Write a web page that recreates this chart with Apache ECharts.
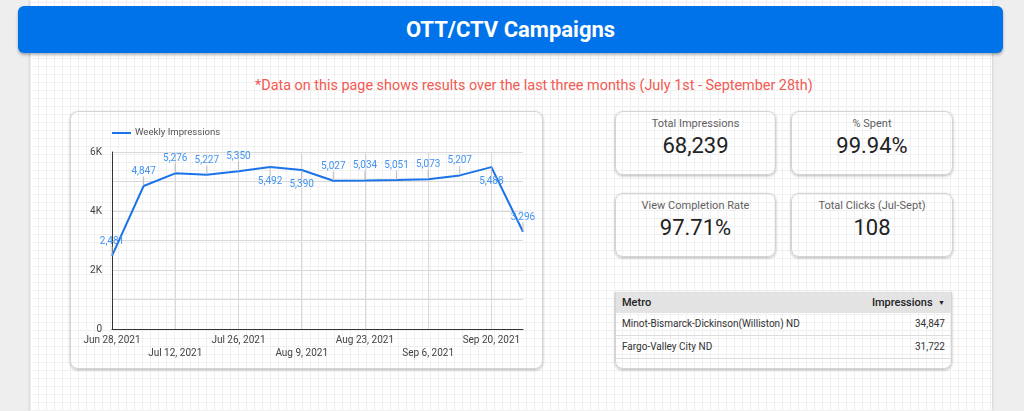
<!DOCTYPE html>
<html>
<head>
<meta charset="utf-8">
<script src="https://cdn.jsdelivr.net/npm/echarts/dist/echarts.min.js"></script>
<style>
  html, body { margin: 0; padding: 0; }
  body { width: 1024px; height: 411px; background: #eeeeee; position: relative; overflow: hidden; font-family: Roboto, "Noto Sans", sans-serif; }
  #page { position: absolute; left: 30px; top: 0; width: 962px; height: 411px; background-color: #fff;
    background-image: repeating-linear-gradient(0deg, #f0f0f0 0 1px, transparent 1px 8px), repeating-linear-gradient(90deg, #f0f0f0 0 1px, transparent 1px 8px);
    box-shadow: 0 0 3px rgba(0,0,0,0.2); }
  #header { position: absolute; left: 18px; top: 6px; width: 985px; height: 47px; background: #0073ea; border-radius: 6px;
    box-shadow: 0 2px 3px rgba(0,0,0,0.3); color: #fff; font-weight: bold; font-size: 22px; line-height: 47px; text-align: center; }
  #note { position: absolute; left: 255px; width: 560px; top: 77px; white-space: nowrap; color: #f25a52; font-size: 14.4px; line-height: 18px; }
  .card { position: absolute; border: 1px solid #d4d4d4; border-radius: 8px; box-shadow: 0 1px 3px rgba(0,0,0,0.28); box-sizing: border-box; }
  .kpi { text-align: center; }
  .kpi .t { position: absolute; left: 0; right: 0; top: 5px; font-size: 11px; color: #5f5f5f; line-height: 14px; }
  .kpi .v { position: absolute; left: 0; right: 0; top: 20px; font-size: 22px; color: #222; line-height: 28px; }
  #chart { position: absolute; left: 70px; top: 111px; width: 473px; height: 258px; }
  #tbl { position: absolute; left: 615px; top: 292px; width: 337px; height: 77px; border-top: none; border-radius: 0 0 8px 8px; overflow: hidden; }
  #tbl .hd { height: 21px; background: #e3e3e3; font-size: 11px; font-weight: 500; color: #222; line-height: 21px; position: relative; }
  #tbl .row { height: 22px; border-bottom: 1px solid #dddddd; font-size: 10px; color: #333; line-height: 22px; position: relative; }
  #tbl .l { position: absolute; left: 6px; }
  #tbl .r { position: absolute; right: 6px; }
</style>
</head>
<body>
<div id="page"></div>
<div id="header">OTT/CTV Campaigns</div>
<div id="note">*Data on this page shows results over the last three months (July 1st - September 28th)</div>

<div class="card" style="left:70px;top:111px;width:473px;height:258px;"></div>
<div id="chart"></div>

<div class="card kpi" style="left:615px;top:111px;width:161px;height:64px;"><div class="t" id="k0t"></div><div class="v" id="k0v"></div></div>
<div class="card kpi" style="left:791px;top:111px;width:162px;height:64px;"><div class="t" id="k1t"></div><div class="v" id="k1v"></div></div>
<div class="card kpi" style="left:615px;top:193px;width:161px;height:64px;"><div class="t" id="k2t"></div><div class="v" id="k2v"></div></div>
<div class="card kpi" style="left:791px;top:193px;width:162px;height:64px;"><div class="t" id="k3t"></div><div class="v" id="k3v"></div></div>

<div class="card" id="tbl">
  <div class="hd"><span class="l">Metro</span><span class="r">Impressions&nbsp;&nbsp;<span style="font-size:7px;vertical-align:1px;">&#9660;</span></span></div>
  <div class="row"><span class="l" id="m0"></span><span class="r" id="v0"></span></div>
  <div class="row"><span class="l" id="m1"></span><span class="r" id="v1"></span></div>
</div>

<script>
var categories = ['Jun 28, 2021','Jul 5, 2021','Jul 12, 2021','Jul 19, 2021','Jul 26, 2021','Aug 2, 2021','Aug 9, 2021','Aug 16, 2021','Aug 23, 2021','Aug 30, 2021','Sep 6, 2021','Sep 13, 2021','Sep 20, 2021','Sep 27, 2021'];
var impressions = [2481, 4847, 5276, 5227, 5350, 5492, 5390, 5027, 5034, 5051, 5073, 5207, 5488, 3296];
var labelsBelow = [5, 6, 12];
var yTicks = [0, 1000, 2000, 3000, 4000, 5000, 6000];

var kpiTitles = ['Total Impressions', '% Spent', 'View Completion Rate', 'Total Clicks (Jul-Sept)'];
var kpiValues = ['68,239', '99.94%', '97.71%', '108'];
var metros = ['Minot-Bismarck-Dickinson(Williston) ND', 'Fargo-Valley City ND'];
var metroImpressions = [34847, 31722];

for (var i = 0; i < 4; i++) {
  document.getElementById('k' + i + 't').textContent = kpiTitles[i];
  document.getElementById('k' + i + 'v').textContent = kpiValues[i];
}
for (var j = 0; j < 2; j++) {
  document.getElementById('m' + j).textContent = metros[j];
  document.getElementById('v' + j).textContent = metroImpressions[j].toLocaleString('en-US');
}

var chart = echarts.init(document.getElementById('chart'));
var ff = 'Roboto, sans-serif';
chart.setOption({
  animation: false,
  textStyle: { fontFamily: ff },
  legend: {
    left: 42, top: 17, padding: 0, icon: 'rect', itemWidth: 19, itemHeight: 2, itemGap: 5,
    itemStyle: { color: '#1a73e8', opacity: 1 },
    textStyle: { fontSize: 9.6, color: '#555', fontFamily: ff, padding: [0, 0, 0, -1] },
    data: [{ name: 'Weekly Impressions', itemStyle: { color: '#1a73e8', opacity: 1 } }]
  },
  grid: { left: 42, right: 20, top: 41, bottom: 40, containLabel: false, outerBoundsMode: 'none' },
  xAxis: {
    type: 'category', data: categories, boundaryGap: false,
    axisLine: { lineStyle: { color: '#333', width: 1 } },
    axisTick: { show: false },
    axisLabel: {
      interval: 1, margin: 5, fontSize: 10, color: '#444', lineHeight: 13, fontFamily: ff,
      formatter: function (v, idx) { return (idx / 2) % 2 === 1 ? '\n' + v : v; }
    },
    splitLine: { show: true, interval: 1, lineStyle: { color: '#d9d9d9' } }
  },
  yAxis: {
    type: 'value', min: yTicks[0], max: yTicks[yTicks.length - 1], interval: 1000,
    axisLine: { show: true, lineStyle: { color: '#333', width: 1 } },
    axisTick: { show: false },
    axisLabel: {
      margin: 10, fontSize: 10, color: '#444', fontFamily: ff,
      formatter: function (v) { return v === 0 ? '0' : (v % 2000 === 0 ? (v / 1000) + 'K' : ''); }
    },
    splitLine: { lineStyle: { color: '#d9d9d9' } }
  },
  series: [{
    name: 'Weekly Impressions', type: 'line',
    data: impressions.map(function (v, i) {
      var below = labelsBelow.indexOf(i) >= 0;
      return { value: v, label: { position: below ? 'bottom' : 'top' } };
    }),
    symbol: 'circle', symbolSize: 1, showSymbol: true,
    itemStyle: { color: 'rgba(26,115,232,0)', borderWidth: 0 },
    lineStyle: { color: '#1a73e8', width: 2 },
    label: {
      show: true, fontSize: 10, color: '#4293f2', distance: 1, fontFamily: ff,
      formatter: function (p) { return p.value.toLocaleString('en-US'); }
    },
    labelLine: { show: true, lineStyle: { color: '#bdbdbd', width: 1 } },
    labelLayout: function (p) {
      return { dy: labelsBelow.indexOf(p.dataIndex) >= 0 ? 8 : -8 };
    }
  }]
});
</script>
</body>
</html>
